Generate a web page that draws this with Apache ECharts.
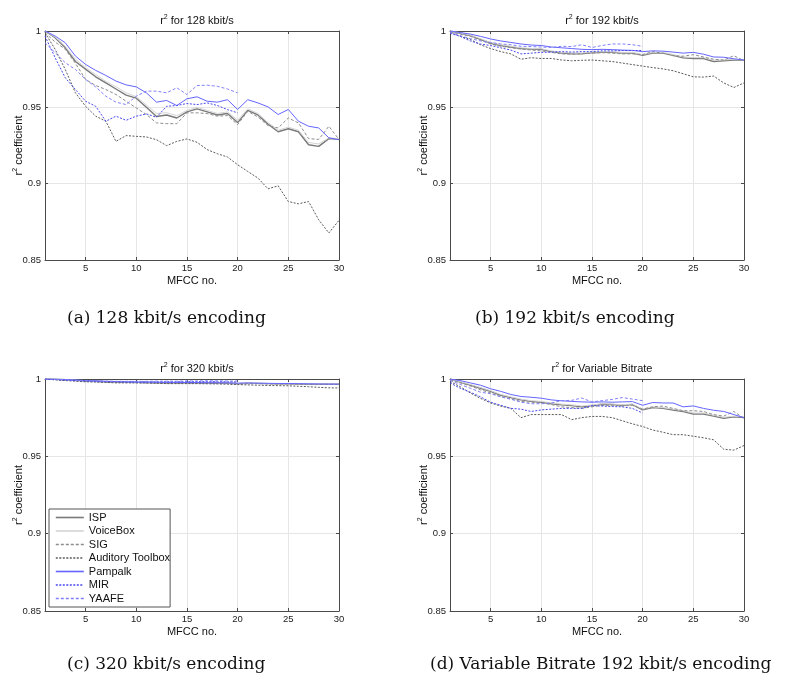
<!DOCTYPE html>
<html>
<head>
<meta charset="utf-8">
<script src="https://cdn.jsdelivr.net/npm/echarts@6/dist/echarts.min.js"></script>
<style>
  html, body { margin: 0; padding: 0; background: #fff; }
  #chart { width: 789px; height: 678px; }
</style>
</head>
<body>
<div id="chart"></div>
<script>
// MFCC coefficient index (x axis)
const mfcc = [1,2,3,4,5,6,7,8,9,10,11,12,13,14,15,16,17,18,19,20,21,22,23,24,25,26,27,28,29,30];
const xTicks = [5, 10, 15, 20, 25, 30];
const toolboxes = ['ISP', 'VoiceBox', 'SIG', 'Auditory Toolbox', 'Pampalk', 'MIR', 'YAAFE'];

// r^2 at 128 kbit/s
const isp128      = [1.000,0.9956,0.989,0.980,0.975,0.970,0.966,0.962,0.958,0.956,0.950,0.944,0.945,0.943,0.947,0.949,0.947,0.945,0.946,0.940,0.948,0.945,0.939,0.934,0.936,0.934,0.9255,0.9244,0.9295,0.929];
const voicebox128 = [1.000,0.9960,0.990,0.9815,0.976,0.9715,0.967,0.9635,0.9595,0.957,0.9515,0.946,0.9465,0.9445,0.948,0.950,0.948,0.946,0.947,0.9415,0.949,0.946,0.940,0.935,0.937,0.935,0.927,0.926,0.930,0.9295];
const sig128      = [0.9989,0.9928,0.988,0.9788,0.9683,0.9643,0.9617,0.9584,0.954,0.9496,0.9453,0.9398,0.9393,0.9393,0.9464,0.9464,0.9459,0.9442,0.9446,0.9387,0.9474,0.9437,0.938,0.9365,0.943,0.9398,0.9295,0.929,0.9376,0.929];
const aud128      = [0.9989,0.988,0.9748,0.9595,0.9507,0.9442,0.9409,0.9277,0.9315,0.931,0.9306,0.9288,0.9249,0.9277,0.9293,0.9271,0.9223,0.9196,0.9175,0.9124,0.908,0.9037,0.8966,0.8986,0.8883,0.8868,0.8883,0.8763,0.8677,0.876];
const pampalk128  = [1.000,0.9967,0.9923,0.9836,0.9781,0.9742,0.9709,0.9672,0.9647,0.9634,0.9595,0.9534,0.9545,0.9512,0.9556,0.9569,0.954,0.9534,0.955,0.9486,0.955,0.9529,0.9503,0.9453,0.9486,0.9409,0.9376,0.9365,0.930,0.9288];
const mir128      = [0.9967,0.9825,0.9693,0.9617,0.954,0.9507,0.9409,0.9442,0.9415,0.9442,0.9457,0.9435,0.9507,0.9512,0.9525,0.9518,0.9529,0.9512,0.9485,0.9464];
const yaafe128    = [0.9923,0.9858,0.9792,0.9748,0.9683,0.9634,0.9573,0.9534,0.9518,0.9573,0.9606,0.9606,0.9595,0.9628,0.9584,0.9643,0.9645,0.9638,0.962,0.9595];

// r^2 at 192 kbit/s
const isp192      = [1.000,0.9985,0.997,0.9945,0.992,0.9905,0.9895,0.9885,0.9882,0.988,0.9865,0.9855,0.985,0.985,0.9858,0.986,0.986,0.9855,0.9855,0.984,0.9855,0.9855,0.984,0.9825,0.982,0.982,0.980,0.9805,0.981,0.981];
const voicebox192 = [1.000,0.9987,0.9973,0.995,0.9925,0.991,0.990,0.989,0.9886,0.9884,0.987,0.986,0.9856,0.9856,0.9862,0.9864,0.9864,0.986,0.986,0.9846,0.986,0.986,0.9846,0.983,0.9826,0.9826,0.9808,0.981,0.9815,0.9812];
const sig192      = [0.9995,0.998,0.9965,0.994,0.9915,0.990,0.989,0.9882,0.9875,0.987,0.986,0.985,0.9848,0.9852,0.9855,0.9858,0.9855,0.985,0.985,0.9845,0.9865,0.9855,0.9838,0.9835,0.9845,0.983,0.9815,0.981,0.9838,0.9805];
const aud192      = [0.999,0.9965,0.9945,0.991,0.9885,0.9865,0.985,0.9815,0.9825,0.982,0.982,0.981,0.9805,0.9808,0.981,0.9805,0.980,0.979,0.978,0.977,0.976,0.9752,0.974,0.972,0.970,0.9698,0.9705,0.966,0.963,0.966];
const pampalk192  = [1.000,0.999,0.998,0.9965,0.9948,0.9935,0.9925,0.9915,0.9908,0.9905,0.9895,0.989,0.9885,0.988,0.9878,0.988,0.9878,0.9875,0.9873,0.9865,0.987,0.9868,0.9862,0.9855,0.986,0.9848,0.983,0.9828,0.9818,0.981];
const mir192      = [0.9985,0.9965,0.9935,0.9915,0.9905,0.989,0.9875,0.985,0.9855,0.986,0.9862,0.9865,0.9862,0.9865,0.9865,0.987,0.987,0.9872,0.9872,0.9872];
const yaafe192    = [0.999,0.997,0.995,0.9935,0.9925,0.9915,0.991,0.990,0.9898,0.9895,0.9892,0.990,0.9898,0.991,0.9892,0.9905,0.9915,0.9915,0.991,0.990];

// r^2 at 320 kbit/s
const isp320      = [1.000,0.9998,0.9995,0.9991,0.9988,0.9985,0.9982,0.998,0.9979,0.9978,0.9977,0.9976,0.9975,0.9975,0.9975,0.9975,0.9974,0.9973,0.9973,0.997,0.9972,0.9972,0.997,0.9969,0.9969,0.9968,0.9966,0.9966,0.9966,0.9966];
const voicebox320 = [1.000,0.9998,0.9996,0.9992,0.9989,0.9986,0.9983,0.9981,0.998,0.9979,0.9978,0.9977,0.9976,0.9976,0.9976,0.9976,0.9975,0.9974,0.9974,0.9972,0.9973,0.9973,0.9971,0.997,0.997,0.9969,0.9968,0.9968,0.9967,0.9967];
const sig320      = [0.9999,0.9997,0.9993,0.9989,0.9986,0.9983,0.998,0.9978,0.9977,0.9976,0.9975,0.9974,0.9972,0.9972,0.9973,0.9973,0.9972,0.9971,0.9971,0.9968,0.997,0.997,0.9968,0.9967,0.9968,0.9966,0.9964,0.9964,0.9966,0.9964];
const aud320      = [0.9999,0.9995,0.999,0.9986,0.9982,0.998,0.9978,0.9975,0.9975,0.9975,0.9974,0.9973,0.997,0.997,0.997,0.997,0.9969,0.9968,0.9966,0.9964,0.9962,0.996,0.9958,0.9957,0.9956,0.9953,0.995,0.9946,0.9943,0.9942];
const pampalk320  = [1.000,0.9999,0.9997,0.9993,0.999,0.9988,0.9985,0.9984,0.9982,0.998,0.998,0.9979,0.9978,0.9978,0.9977,0.9977,0.9976,0.9976,0.9975,0.9973,0.9975,0.9973,0.9972,0.9971,0.9971,0.997,0.9969,0.9968,0.9967,0.9967];
const mir320      = [0.9999,0.9996,0.9992,0.999,0.9987,0.9985,0.9983,0.9982,0.9981,0.9981,0.9981,0.9981,0.9982,0.9982,0.9983,0.9983,0.9983,0.9983,0.9982,0.9981];
const yaafe320    = [1.000,0.9998,0.9995,0.9992,0.999,0.9988,0.9986,0.9985,0.9985,0.9985,0.9985,0.9986,0.9986,0.9986,0.9987,0.9987,0.9988,0.9988,0.9987,0.9986];

// r^2 for variable bitrate (192 kbit/s)
const ispVbr      = [1.000,0.998,0.996,0.994,0.992,0.9895,0.988,0.9865,0.9855,0.985,0.984,0.9833,0.9828,0.982,0.9828,0.9837,0.9835,0.983,0.9835,0.980,0.9815,0.981,0.980,0.979,0.9774,0.9774,0.976,0.9746,0.9755,0.975];
const voiceboxVbr = [1.000,0.9983,0.9965,0.9945,0.9925,0.990,0.9885,0.987,0.986,0.9855,0.9845,0.9838,0.9833,0.9826,0.9832,0.984,0.9838,0.9834,0.9838,0.9806,0.982,0.9815,0.9805,0.9795,0.978,0.978,0.9766,0.9752,0.976,0.9755];
const sigVbr      = [0.9995,0.9975,0.9955,0.993,0.991,0.9885,0.987,0.9855,0.985,0.9845,0.9835,0.982,0.9815,0.981,0.982,0.983,0.983,0.9825,0.983,0.9805,0.982,0.9825,0.981,0.9795,0.9795,0.979,0.977,0.976,0.979,0.9745];
const audVbr      = [0.9985,0.995,0.991,0.9875,0.9845,0.9825,0.981,0.975,0.977,0.977,0.977,0.977,0.9737,0.975,0.9758,0.9758,0.975,0.973,0.971,0.9693,0.967,0.9656,0.964,0.964,0.963,0.962,0.9607,0.9546,0.954,0.957];
const pampalkVbr  = [1.000,0.999,0.9975,0.996,0.9937,0.992,0.990,0.9887,0.9882,0.9876,0.9865,0.9859,0.9855,0.9852,0.985,0.9852,0.985,0.9852,0.9854,0.983,0.9848,0.9845,0.9845,0.982,0.9826,0.981,0.9798,0.979,0.977,0.975];
const mirVbr      = [0.9975,0.994,0.9915,0.9885,0.985,0.983,0.981,0.9805,0.979,0.980,0.9805,0.981,0.981,0.981,0.9828,0.9825,0.9822,0.982,0.981,0.978];
const yaafeVbr    = [0.999,0.9965,0.994,0.9915,0.9905,0.9885,0.987,0.985,0.984,0.984,0.9845,0.986,0.9862,0.9877,0.9852,0.986,0.9868,0.988,0.987,0.986];

const panelTitles = ['128 kbit/s', '192 kbit/s', '320 kbit/s', 'Variable Bitrate'];
const captions = ['(a) 128 kbit/s encoding', '(b) 192 kbit/s encoding', '(c) 320 kbit/s encoding', '(d) Variable Bitrate 192 kbit/s encoding'];
const panelData = [
  [isp128, voicebox128, sig128, aud128, pampalk128, mir128, yaafe128],
  [isp192, voicebox192, sig192, aud192, pampalk192, mir192, yaafe192],
  [isp320, voicebox320, sig320, aud320, pampalk320, mir320, yaafe320],
  [ispVbr, voiceboxVbr, sigVbr, audVbr, pampalkVbr, mirVbr, yaafeVbr]
];

// line appearance per toolbox
const lineStyles = [
  { color: '#7a7a7a', width: 1.4, type: 'solid' },
  { color: '#d4d4d4', width: 1, type: 'solid' },
  { color: '#8c8c8c', width: 1, type: [3, 2] },
  { color: '#5a5a5a', width: 1, type: [2, 1.5] },
  { color: '#6464ff', width: 1, type: 'solid' },
  { color: '#4848f0', width: 1, type: [2, 1.5] },
  { color: '#8080f8', width: 1, type: [3, 2] }
];

const FONT = 'Liberation Sans';
const grids = [
  { left: 45, top: 31, width: 294, height: 229 },
  { left: 450, top: 31, width: 294, height: 229 },
  { left: 45, top: 379, width: 294, height: 232 },
  { left: 450, top: 379, width: 294, height: 232 }
];

const axisLineStyle = { color: '#4a4a4a', width: 1 };
const richLabel = {
  t: { fontFamily: FONT, fontSize: 11, fontWeight: 'normal', color: '#111' },
  s: { fontFamily: FONT, fontSize: 7, fontWeight: 'normal', color: '#111', padding: [0, 0, 7, 0] }
};
const xAxes = [], yAxes = [], series = [], titles = [], graphics = [];

grids.forEach((g, gi) => {
  xAxes.push({
    type: 'value', gridIndex: gi, min: 1, max: 30, position: 'bottom',
    name: 'MFCC no.', nameLocation: 'middle', nameGap: 15, nameMoveOverlap: false,
    nameTextStyle: { fontFamily: FONT, fontSize: 11, color: '#111' },
    axisLine: { show: true, onZero: false, lineStyle: axisLineStyle },
    axisTick: { show: true, inside: true, length: 3, customValues: xTicks, lineStyle: axisLineStyle },
    axisLabel: { customValues: xTicks, fontFamily: FONT, fontSize: 9.5, color: '#222', margin: 3 },
    splitLine: { show: true, lineStyle: { color: '#e6e6e6', width: 1 } }
  });
  xAxes.push({
    type: 'value', gridIndex: gi, min: 1, max: 30, position: 'top',
    axisLine: { show: true, onZero: false, lineStyle: axisLineStyle },
    axisTick: { show: true, inside: true, length: 3, customValues: xTicks, lineStyle: axisLineStyle },
    axisLabel: { show: false },
    splitLine: { show: false }
  });
  yAxes.push({
    type: 'value', gridIndex: gi, min: 0.85, max: 1, interval: 0.05, position: 'left',
    name: '{t|r}{s|2}{t| coefficient}', nameLocation: 'middle', nameGap: 19, nameRotate: 90,
    nameMoveOverlap: false,
    nameTextStyle: { color: '#111', rich: richLabel },
    axisLine: { show: true, onZero: false, lineStyle: axisLineStyle },
    axisTick: { show: true, inside: true, length: 3, lineStyle: axisLineStyle },
    axisLabel: { fontFamily: FONT, fontSize: 9.5, color: '#222', margin: 4 },
    splitLine: { show: true, lineStyle: { color: '#e6e6e6', width: 1 } }
  });
  yAxes.push({
    type: 'value', gridIndex: gi, min: 0.85, max: 1, interval: 0.05, position: 'right',
    axisLine: { show: true, onZero: false, lineStyle: axisLineStyle },
    axisTick: { show: true, inside: true, length: 3, lineStyle: axisLineStyle },
    axisLabel: { show: false },
    splitLine: { show: false }
  });

  titles.push({
    text: '{t|r}{s|2}{t| for ' + panelTitles[gi] + '}',
    left: g.left + g.width / 2, textAlign: 'center',
    top: g.top - 22,
    textStyle: { fontWeight: 'normal', rich: richLabel }
  });

  panelData[gi].forEach((values, si) => {
    series.push({
      name: toolboxes[si],
      type: 'line',
      xAxisIndex: gi * 2,
      yAxisIndex: gi * 2,
      data: values.map((v, i) => [mfcc[i], v]),
      symbol: 'none',
      clip: true,
      lineStyle: lineStyles[si],
      itemStyle: { color: lineStyles[si].color, opacity: 0 },
      z: 2 + si,
      animation: false
    });
  });
});

const captionPos = [
  { x: 67, y: 319 }, { x: 475, y: 319 },
  { x: 67, y: 665 }, { x: 430, y: 665 }
];
captions.forEach((c, i) => {
  graphics.push({
    type: 'text', x: captionPos[i].x, y: captionPos[i].y,
    style: { text: c, font: '17px "DejaVu Serif"', fill: '#111', textVerticalAlign: 'middle' }
  });
});

const chart = echarts.init(document.getElementById('chart'), null, { renderer: 'canvas' });
chart.setOption({
  backgroundColor: '#fff',
  animation: false,
  title: titles,
  grid: grids,
  xAxis: xAxes,
  yAxis: yAxes,
  series: series,
  legend: {
    data: toolboxes,
    orient: 'vertical',
    left: 49, top: 509,
    itemWidth: 28, itemHeight: 11, itemGap: 2.5,
    padding: [3, 0, 3, 6],
    backgroundColor: '#fff',
    borderColor: '#555', borderWidth: 1, borderRadius: 0,
    selectedMode: false,
    itemStyle: { opacity: 0 },
    lineStyle: { width: 1.6 },
    textStyle: { fontFamily: FONT, fontSize: 11, color: '#111', lineHeight: 11 }
  },
  graphic: graphics
});
</script>
</body>
</html>
